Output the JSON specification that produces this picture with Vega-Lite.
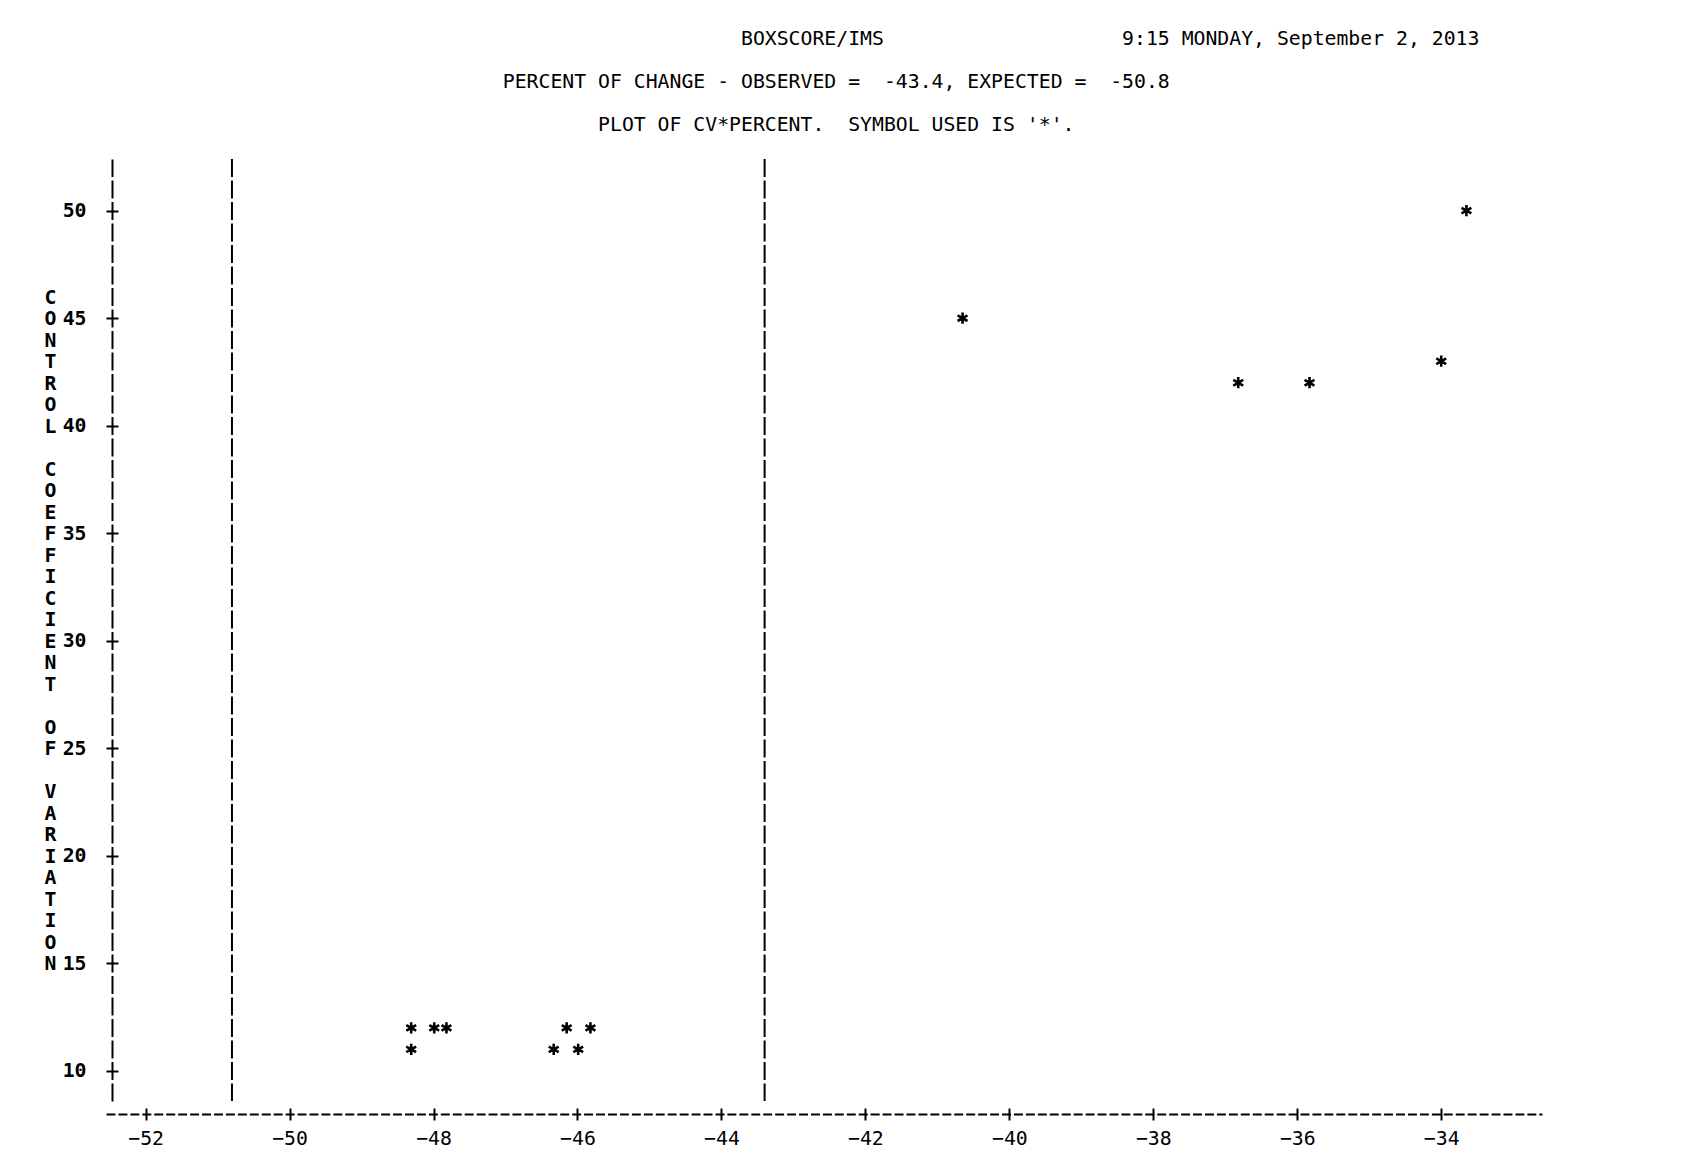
{
  "$schema": "https://vega.github.io/schema/vega-lite/v6.json",
  "width": 1436,
  "height": 942,
  "autosize": {"type": "none"},
  "padding": {"left": 106, "top": 159, "right": 142, "bottom": 72},
  "background": "white",
  "config": {"view": {"stroke": null}, "axis": {"grid": false}},
  "title": {
    "text": [
      "\u200b\u00a0\u00a0\u00a0\u00a0\u00a0\u00a0\u00a0\u00a0\u00a0\u00a0\u00a0\u00a0\u00a0\u00a0\u00a0\u00a0\u00a0\u00a0\u00a0\u00a0BOXSCORE/IMS\u00a0\u00a0\u00a0\u00a0\u00a0\u00a0\u00a0\u00a0\u00a0\u00a0\u00a0\u00a0\u00a0\u00a0\u00a0\u00a0\u00a0\u00a0\u00a0\u00a09:15\u00a0MONDAY,\u00a0September\u00a02,\u00a02013",
      "PERCENT\u00a0OF\u00a0CHANGE\u00a0-\u00a0OBSERVED\u00a0=\u00a0\u00a0-43.4,\u00a0EXPECTED\u00a0=\u00a0\u00a0-50.8",
      "\u200b\u00a0\u00a0\u00a0\u00a0\u00a0\u00a0\u00a0\u00a0PLOT\u00a0OF\u00a0CV*PERCENT.\u00a0\u00a0SYMBOL\u00a0USED\u00a0IS\u00a0'*'."
    ],
    "anchor": "start",
    "frame": "group",
    "align": "left",
    "dx": 396.8,
    "font": "DejaVu Sans Mono",
    "fontSize": 19.8,
    "fontWeight": "normal",
    "color": "black",
    "lineHeight": 43,
    "baseline": "alphabetic",
    "offset": 7.5
  },
  "datasets": {
    "pts": [
      {"PERCENT": -33.65, "CV": 50},
      {"PERCENT": -40.65, "CV": 45},
      {"PERCENT": -34.0, "CV": 43},
      {"PERCENT": -36.82, "CV": 42},
      {"PERCENT": -35.83, "CV": 42},
      {"PERCENT": -48.31, "CV": 12},
      {"PERCENT": -48.31, "CV": 11},
      {"PERCENT": -47.99, "CV": 12},
      {"PERCENT": -47.82, "CV": 12},
      {"PERCENT": -46.15, "CV": 12},
      {"PERCENT": -45.82, "CV": 12},
      {"PERCENT": -46.33, "CV": 11},
      {"PERCENT": -45.99, "CV": 11}
    ],
    "refs": [
      {"PERCENT": -50.8, "ref": "EXPECTED"},
      {"PERCENT": -43.4, "ref": "OBSERVED"}
    ]
  },
  "encoding": {
    "x": {
      "field": "PERCENT",
      "type": "quantitative",
      "scale": {"domain": [-52.55, -32.6], "nice": false, "zero": false},
      "axis": {
        "orient": "bottom",
        "offset": 13,
        "title": null,
        "values": [-52, -50, -48, -46, -44, -42, -40, -38, -36, -34],
        "format": "d",
        "domain": true,
        "domainColor": "black",
        "domainWidth": 2,
        "domainDash": [9, 2.94],
        "ticks": true,
        "tickColor": "black",
        "tickWidth": 2,
        "tickSize": 6,
        "labelFont": "DejaVu Sans Mono",
        "labelFontSize": 19.8,
        "labelFontWeight": "normal",
        "labelColor": "black",
        "labelPadding": 8,
        "encoding": {"ticks": {"y": {"value": -6}}}
      }
    }
  },
  "layer": [
    {
      "data": {"name": "refs"},
      "mark": {"type": "rule", "color": "black", "strokeWidth": 2, "strokeDash": [18, 3.5]}
    },
    {
      "data": {"name": "pts"},
      "mark": {
        "type": "point",
        "shape": "M0,-1L0,1M-0.866,-0.5L0.866,0.5M-0.866,0.5L0.866,-0.5",
        "filled": false,
        "stroke": "black",
        "strokeWidth": 2.6,
        "size": 130,
        "opacity": 1
      },
      "encoding": {
        "y": {
          "field": "CV",
          "type": "quantitative",
          "scale": {"domain": [8.6, 52.4], "nice": false, "zero": false},
          "axis": {
            "orient": "left",
            "offset": -6,
            "values": [10, 15, 20, 25, 30, 35, 40, 45, 50],
            "format": "d",
            "domain": true,
            "domainColor": "black",
            "domainWidth": 2,
            "domainDash": [18, 3.5],
            "ticks": true,
            "tickColor": "black",
            "tickWidth": 2,
            "tickSize": 6,
            "encoding": {"ticks": {"x": {"value": 6}}},
            "labelFont": "DejaVu Sans Mono",
            "labelFontSize": 19.8,
            "labelFontWeight": "bold",
            "labelColor": "black",
            "labelPadding": 20,
            "labelBaseline": "middle",
            "title": ["C","O","N","T","R","O","L","\u2800","C","O","E","F","F","I","C","I","E","N","T","\u2800","O","F","\u2800","V","A","R","I","A","T","I","O","N"],
            "titleFont": "DejaVu Sans Mono",
            "titleFontSize": 19.8,
            "titleFontWeight": "bold",
            "titleColor": "black",
            "titleAngle": 0,
            "titleAlign": "center",
            "titleBaseline": "middle",
            "titleLineHeight": 21.51,
            "titleX": -62,
            "titleY": 138
          }
        }
      }
    }
  ]
}
